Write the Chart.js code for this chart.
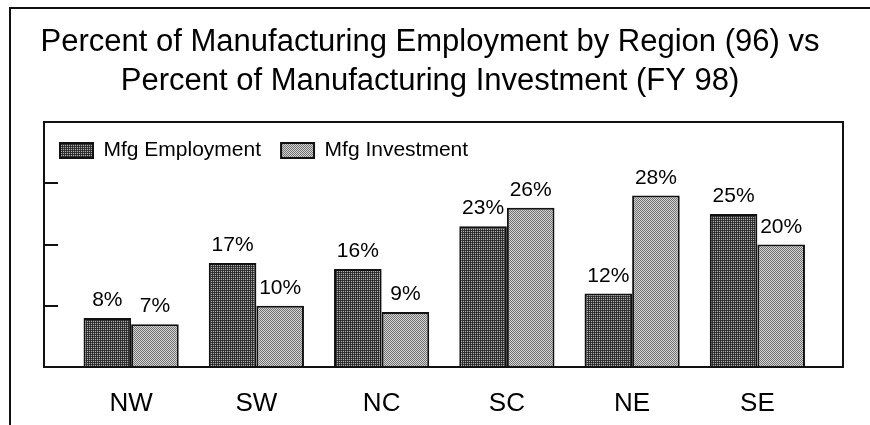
<!DOCTYPE html>
<html>
<head>
<meta charset="utf-8">
<script src="https://cdn.jsdelivr.net/npm/chart.js@4/dist/chart.umd.min.js"></script>
<style>
html,body{margin:0;padding:0;background:#fff;}
canvas{display:block;}
</style>
</head>
<body>
<canvas id="c" width="870" height="425"></canvas>
<script>
// ---- data ----
const regions = ['NW', 'SW', 'NC', 'SC', 'NE', 'SE'];
const mfgEmployment = [8, 17, 16, 23, 12, 25];
const mfgInvestment = [7, 10, 9, 26, 28, 20];
const seriesNames = ['Mfg Employment', 'Mfg Investment'];
const titleLines = ['Percent of Manufacturing Employment by Region (96) vs', 'Percent of Manufacturing Investment (FY 98)'];
const yTickValues = [10, 20, 30];
const yMax = 40;

const FONT = '"Liberation Sans", Arial, Helvetica, sans-serif';

function makePattern(rows) {
  const n = rows.length;
  const c = document.createElement('canvas');
  c.width = n; c.height = n;
  const x = c.getContext('2d');
  for (let i = 0; i < n; i++) for (let j = 0; j < n; j++) {
    x.fillStyle = rows[i][j];
    x.fillRect(j, i, 1, 1);
  }
  return x.createPattern(c, 'repeat');
}
const darkPattern = makePattern([['#2a2a2a', '#363636'], ['#363636', '#b0b0b0']]);
const lightPattern = makePattern([['#707070', '#d6d6d6'], ['#d6d6d6', '#707070']]);

const framePlugin = {
  id: 'frame',
  beforeDraw(chart) {
    const ctx = chart.ctx;
    ctx.save();
    ctx.fillStyle = '#fff';
    ctx.fillRect(0, 0, chart.width, chart.height);
    ctx.strokeStyle = '#111';
    ctx.lineWidth = 2;
    ctx.beginPath();
    ctx.moveTo(10, chart.height);
    ctx.lineTo(10, 8);
    ctx.lineTo(chart.width, 8);
    ctx.stroke();
    ctx.restore();
  }
};

// legend reserves almost no layout space; let it draw inside the plot box
const legendRoomPlugin = {
  id: 'legendRoom',
  afterLayout(chart) {
    const lg = chart.legend;
    if (lg) {
      lg.height = 50;
      lg.bottom = lg.top + 50;
    }
  }
};

const boxPlugin = {
  id: 'plotBox',
  afterDatasetsDraw(chart) {
    const ctx = chart.ctx;
    const y = chart.scales.y;
    const top = y.getPixelForValue(yMax);
    const bottom = y.getPixelForValue(0);
    const left = 44, right = 843;
    ctx.save();
    ctx.strokeStyle = '#111';
    ctx.lineWidth = 2;
    ctx.strokeRect(left, top, right - left, bottom - top);
    ctx.beginPath();
    yTickValues.forEach(v => {
      const py = Math.round(y.getPixelForValue(v));
      ctx.moveTo(left, py);
      ctx.lineTo(left + 14, py);
    });
    ctx.stroke();
    ctx.restore();
  }
};

const labelPlugin = {
  id: 'valueLabels',
  afterDatasetsDraw(chart) {
    const ctx = chart.ctx;
    ctx.save();
    ctx.font = '21px ' + FONT;
    ctx.fillStyle = '#000';
    ctx.textAlign = 'center';
    ctx.textBaseline = 'alphabetic';
    chart.data.datasets.forEach((ds, di) => {
      const meta = chart.getDatasetMeta(di);
      meta.data.forEach((el, i) => {
        ctx.fillText(ds.data[i] + '%', el.x, el.y - 12);
      });
    });
    ctx.restore();
  }
};

Chart.defaults.color = '#000';
Chart.defaults.font.family = FONT;

new Chart(document.getElementById('c'), {
  type: 'bar',
  data: {
    labels: regions,
    datasets: [
      { label: seriesNames[0], data: mfgEmployment, backgroundColor: darkPattern, borderColor: '#111', borderWidth: 2 },
      { label: seriesNames[1], data: mfgInvestment, backgroundColor: lightPattern, borderColor: '#111', borderWidth: 2 }
    ]
  },
  options: {
    responsive: false,
    animation: false,
    devicePixelRatio: 1,
    datasets: { bar: { categoryPercentage: 0.76, barPercentage: 1.0 } },
    layout: { padding: { left: 40, right: 50, top: 8, bottom: 5.4 } },
    plugins: {
      title: {
        display: true,
        text: titleLines,
        color: '#000',
        font: { family: FONT, size: 31, weight: 'normal', lineHeight: 39 / 31 },
        padding: { top: 14.5, bottom: 19.5 }
      },
      legend: {
        display: true,
        position: 'top',
        align: 'start',
        maxHeight: 2,
        labels: {
          boxWidth: 33,
          boxHeight: 15,
          padding: 20,
          color: '#000',
          font: { family: FONT, size: 21 }
        }
      },
      tooltip: { enabled: false }
    },
    scales: {
      x: {
        offset: true,
        grid: { display: false, drawTicks: false },
        border: { display: false },
        ticks: { color: '#000', padding: 21.4, font: { family: FONT, size: 26 } },
        afterFit(axis) { axis.height = 52.6; }
      },
      y: {
        min: 0,
        max: yMax,
        grid: { display: false, drawTicks: false },
        border: { display: false },
        ticks: { display: false, stepSize: 10 },
        afterFit(axis) { axis.width = 28.5; }
      }
    }
  },
  plugins: [framePlugin, legendRoomPlugin, boxPlugin, labelPlugin]
});
</script>
</body>
</html>
